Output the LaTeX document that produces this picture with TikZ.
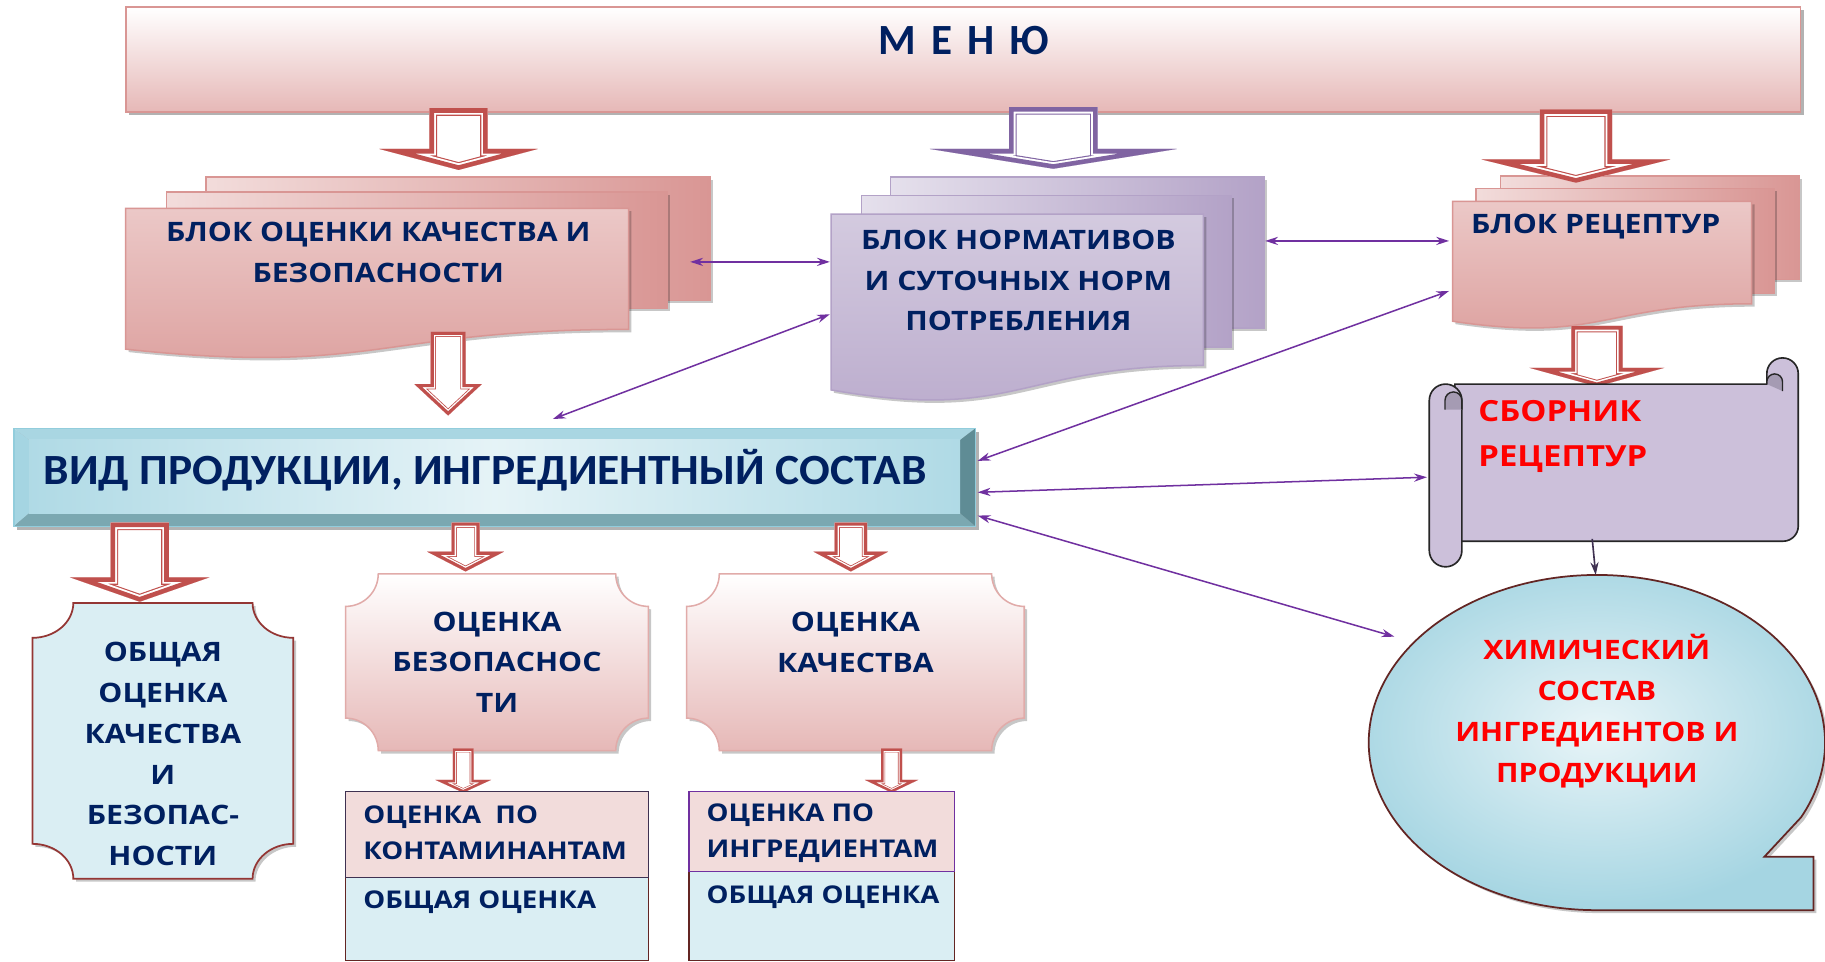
\documentclass[tikz,border=0pt]{standalone}
\usepackage{fontspec}
\setmainfont{Open Sans}
\newfontfamily\wideos{Open Sans}[FakeStretch=1.13]
\newfontfamily\calfont{Carlito}
\newfontfamily\calwide{Carlito}[FakeStretch=1.055]
\usetikzlibrary{arrows.meta,shadows}
\definecolor{navy}{HTML}{002060}
\definecolor{pinkL}{HTML}{F2DCDB}
\definecolor{pinkM}{HTML}{E6B8B7}
\definecolor{pinkD}{HTML}{D99694}
\definecolor{purL}{HTML}{E5E0EC}
\definecolor{purD}{HTML}{B3A2C7}
\definecolor{arrRed}{HTML}{C0504D}
\definecolor{arrPur}{HTML}{8064A2}
\definecolor{conPur}{HTML}{7030A0}
\definecolor{blueL}{HTML}{DAEEF3}
\definecolor{blueM}{HTML}{A5D5E2}
\definecolor{blueB}{HTML}{92CDDC}
\definecolor{bevTop}{HTML}{A9D6E2}
\definecolor{bevBot}{HTML}{7BA8B1}
\definecolor{bevRt}{HTML}{5F8C95}
\definecolor{maroon}{HTML}{632523}
\definecolor{plqBorder}{HTML}{943634}
\definecolor{scrollF}{HTML}{CCC0DA}
\definecolor{scrollDk}{HTML}{A59BB3}
\definecolor{scrollLn}{HTML}{262626}
\definecolor{darkPur}{HTML}{3F3151}

\newcommand\blockarrow[8]{%
  \path[save path=\arrsave] ({#1-#3},#2) -- ({#1+#3},#2) -- ({#1+#3},#4) -- ({#1+#5},#4) -- (#1,#6) -- ({#1-#5},#4) -- ({#1-#3},#4) -- cycle;
  \begin{scope}
    \path[use path=\arrsave, clip];
    \path[use path=\arrsave, fill=white];
    \path[use path=\arrsave, draw=#7, line width={2*#8pt}];
    \path[use path=\arrsave, draw=white, line width={1.7*#8pt}];
    \path[use path=\arrsave, draw=#7, line width={1.2*#8pt}];
  \end{scope}}

\tikzset{
  lbl/.style={font=\wideos\fontsize{23}{35}\selectfont\bfseries, text=navy, align=center, inner sep=0pt},
  redlbl/.style={lbl, text=red},
  tbl/.style={font=\wideos\fontsize{21}{31}\selectfont\bfseries, text=navy, align=left, inner sep=0pt, anchor=west},
  conn/.style={draw=conPur, line width=1.3pt, {Stealth[length=11pt,width=7pt]}-{Stealth[length=11pt,width=7pt]}},
  shad/.style={drop shadow={shadow xshift=2.5pt, shadow yshift=-2.5pt, fill=black, opacity=0.22}},
  pinkback/.style={draw=pinkD, line width=1.3pt, left color=pinkL, right color=pinkD, shad},
  pinkfront/.style={draw=pinkD, line width=1.3pt, top color=pinkM!55!pinkL, middle color=pinkL, bottom color=pinkD!85!pinkL, shad},
  purback/.style={draw=purD, line width=1.3pt, left color=purL, right color=purD, shad},
  purfront/.style={draw=purD, line width=1.3pt, top color=purD!35!purL, middle color=purL, bottom color=purD!85!purL, shad},
}

\begin{document}
\begin{tikzpicture}[x=1pt,y=-1pt]
\useasboundingbox (0,0) rectangle (1568,826);
\fill[white] (0,0) rectangle (1568,826);

% ---------- MENU ----------
\fill[black!30] (111,9) rectangle (1550,99);
\path[draw=pinkD, line width=1.5pt, top color=white, bottom color=pinkM] (108,6) rectangle (1547,96);
\node[lbl, font=\calfont\fontsize{37}{40}\selectfont\bfseries, anchor=base] (menu) at (828,47) {М\hspace{13pt}Е\hspace{13pt}Н\hspace{13pt}Ю};

% ---------- document stacks ----------
\path[pinkback] (177,152) rectangle (610,258);
\path[pinkback] (143,165) rectangle (573,265);
\path[pinkfront] (108,179) -- (540,179) -- (540,283) .. controls (324,283) and (324,323) .. (108,300) -- cycle;
\node[lbl] (blockq) at (325,217) {БЛОК ОЦЕНКИ КАЧЕСТВА И\\БЕЗОПАСНОСТИ};

\path[purback] (765,152) rectangle (1086,282);
\path[purback] (740,168) rectangle (1058,298);
\path[purfront] (714,184) -- (1034,184) -- (1034,314) .. controls (874,314) and (874,363) .. (714,335) -- cycle;
\node[lbl] (blockn) at (875,241) {БЛОК НОРМАТИВОВ\\И СУТОЧНЫХ НОРМ\\ПОТРЕБЛЕНИЯ};

\path[pinkback] (1289,151) rectangle (1546,240);
\path[pinkback] (1268,162) rectangle (1524,252);
\path[pinkfront] (1248,173) -- (1505,173) -- (1505,261) .. controls (1376,261) and (1376,295) .. (1248,276) -- cycle;
\node[lbl] (blockr) at (1371,195) {БЛОК РЕЦЕПТУР};

% ---------- arrows from menu ----------
\blockarrow{394}{93}{25}{128}{68}{146}{arrRed}{6.5}
\blockarrow{905}{92}{38}{128}{106}{145}{arrPur}{6.5}
\blockarrow{1354}{94}{31}{137}{81}{157}{arrRed}{6.5}
\blockarrow{385}{285}{15}{330}{29}{357}{arrRed}{4.5}
\blockarrow{1372}{280}{22}{316}{58}{332}{arrRed}{5.5}

% ---------- VID box (bevel) ----------
\fill[black!30] (15,371) rectangle (841,455);
\fill[bevTop] (12,368) -- (838,368) -- (825,378) -- (25,378) -- cycle;
\fill[blueM] (12,368) -- (25,378) -- (25,441) -- (12,452) -- cycle;
\fill[bevBot] (12,452) -- (25,441) -- (825,441) -- (838,452) -- cycle;
\fill[bevRt] (838,368) -- (838,452) -- (825,441) -- (825,378) -- cycle;
\path[left color=blueM!80!blueL, right color=blueM!80!blueL, middle color=blueL!70!white] (25,378) rectangle (825,441);
\draw[blueB, line width=1pt] (12,368) rectangle (838,452);
\node[lbl, font=\calwide\fontsize{37}{40}\selectfont\bfseries, anchor=base] (vid) at (417,416) {ВИД ПРОДУКЦИИ, ИНГРЕДИЕНТНЫЙ СОСТАВ};

% ---------- arrows from VID ----------
\blockarrow{120}{449}{25}{496}{60}{517}{arrRed}{6.5}
\blockarrow{400}{449}{12}{474}{33}{491}{arrRed}{4.5}
\blockarrow{731}{449}{14}{474}{32}{491}{arrRed}{4.5}

% ---------- plaques ----------
\path[fill=blueL, draw=plqBorder, line width=1.5pt, shad]
  (63,518) -- (217,518) arc[start angle=180,end angle=90,x radius=35,y radius=30]
  -- (252,725) arc[start angle=270,end angle=180,x radius=35,y radius=30]
  -- (63,755) arc[start angle=0,end angle=-90,x radius=35,y radius=30]
  -- (28,548) arc[start angle=90,end angle=0,x radius=35,y radius=30] -- cycle;
\node[lbl] (general) at (140,648) {ОБЩАЯ\\ОЦЕНКА\\КАЧЕСТВА\\И\\БЕЗОПАС-\\НОСТИ};

\path[top color=white, bottom color=pinkM, draw=pinkD!80!white, line width=1.3pt, shad]
  (325,493) -- (529,493) arc[start angle=180,end angle=90,radius=28]
  -- (557,617) arc[start angle=270,end angle=180,radius=28]
  -- (325,645) arc[start angle=0,end angle=-90,radius=28]
  -- (297,521) arc[start angle=90,end angle=0,radius=28] -- cycle;
\node[lbl] (safety) at (427,569) {ОЦЕНКА\\БЕЗОПАСНОС\\ТИ};

\path[top color=white, bottom color=pinkM, draw=pinkD!80!white, line width=1.3pt, shad]
  (618,493) -- (852,493) arc[start angle=180,end angle=90,radius=28]
  -- (880,617) arc[start angle=270,end angle=180,radius=28]
  -- (618,645) arc[start angle=0,end angle=-90,radius=28]
  -- (590,521) arc[start angle=90,end angle=0,radius=28] -- cycle;
\node[lbl] (quality) at (735,552) {ОЦЕНКА\\КАЧЕСТВА};

\blockarrow{398}{643}{9}{670}{24}{681}{arrRed}{3.5}
\blockarrow{766}{643}{9}{670}{23}{681}{arrRed}{3.5}

% ---------- tables ----------
\path[fill=blueL, draw=maroon, line width=1.2pt] (297,754) rectangle (557,825);
\path[fill=pinkL, draw=darkPur, line width=1.2pt] (297,680) rectangle (557,754);
\node[tbl] (cont) at (312,715.5) {ОЦЕНКА\ \ ПО\\КОНТАМИНАНТАМ};
\node[tbl] (gen1) at (312,775) {ОБЩАЯ ОЦЕНКА};

\path[fill=blueL, draw=maroon, line width=1.2pt] (592,749) rectangle (820,825);
\path[fill=pinkL, draw=conPur, line width=1.2pt] (592,680) rectangle (820,749);
\node[tbl] (ingr) at (607,715.5) {ОЦЕНКА ПО\\ИНГРЕДИЕНТАМ};
\node[tbl] (gen2) at (607,771) {ОБЩАЯ ОЦЕНКА};

% ---------- scroll ----------
\path[fill=scrollF, draw=scrollLn, line width=1.4pt]
  (1250,330) -- (1518,330) -- (1518,321) arc[start angle=180,end angle=360,radius=13.5]
  -- (1545,452) arc[start angle=0,end angle=90,radius=13] -- (1250,465) -- cycle;
\path[fill=scrollDk, draw=scrollLn, line width=1.2pt] (1518,330) -- (1518,328) arc[start angle=180,end angle=360,radius=6.75] -- (1531.5,336);
\path[fill=scrollF, draw=scrollLn, line width=1.4pt]
  (1228,344) arc[start angle=180,end angle=360,radius=14] -- (1256,473)
  arc[start angle=0,end angle=180,radius=14] -- cycle;
\path[fill=scrollDk, draw=scrollLn, line width=1.2pt] (1241.5,352) -- (1241.5,344) arc[start angle=180,end angle=360,radius=7.25] -- (1256,352);
\node[redlbl, font=\wideos\fontsize{25}{39}\selectfont\bfseries, align=left, anchor=west] (sbornik) at (1270,375) {СБОРНИК\\РЕЦЕПТУР};

% ---------- speech bubble ----------
\path[inner color=blueL!60!white, outer color=blueM, draw=maroon, line width=1.5pt, shad]
  (1516,736) -- ({1372+196*cos(26.5)},{638+144*sin(26.5)})
  arc[start angle=26.5,end angle=-270,x radius=196,y radius=144]
  -- (1558,782) -- (1558,736) -- cycle;
\node[redlbl] (chem) at (1372,611) {ХИМИЧЕСКИЙ\\СОСТАВ\\ИНГРЕДИЕНТОВ И\\ПРОДУКЦИИ};

% ---------- connectors ----------
\coordinate (qR) at (593,225);
\coordinate (nL) at (713,225);
\coordinate (nR) at (1087,207);
\coordinate (rL) at (1245,207);
\coordinate (vidT) at (475,360);
\coordinate (nLb) at (713,270);
\coordinate (vidR1) at (840,396);
\coordinate (rLb) at (1245,250);
\coordinate (vidR2) at (840,423);
\coordinate (scrL) at (1226,410);
\coordinate (vidR3) at (840,443);
\coordinate (chemL) at (1198,547);
\coordinate (scrB) at (1368,463);
\coordinate (chemT) at (1371,494);
\draw[conn] (qR) -- (nL);
\draw[conn] (nR) -- (rL);
\draw[conn] (vidT) -- (nLb);
\draw[conn] (vidR1) -- (rLb);
\draw[conn] (vidR2) -- (scrL);
\draw[conn] (vidR3) -- (chemL);
\draw[draw=darkPur, line width=1.4pt, -{Stealth[length=11pt,width=7pt]}] (scrB) -- (chemT);
\end{tikzpicture}
\end{document}
